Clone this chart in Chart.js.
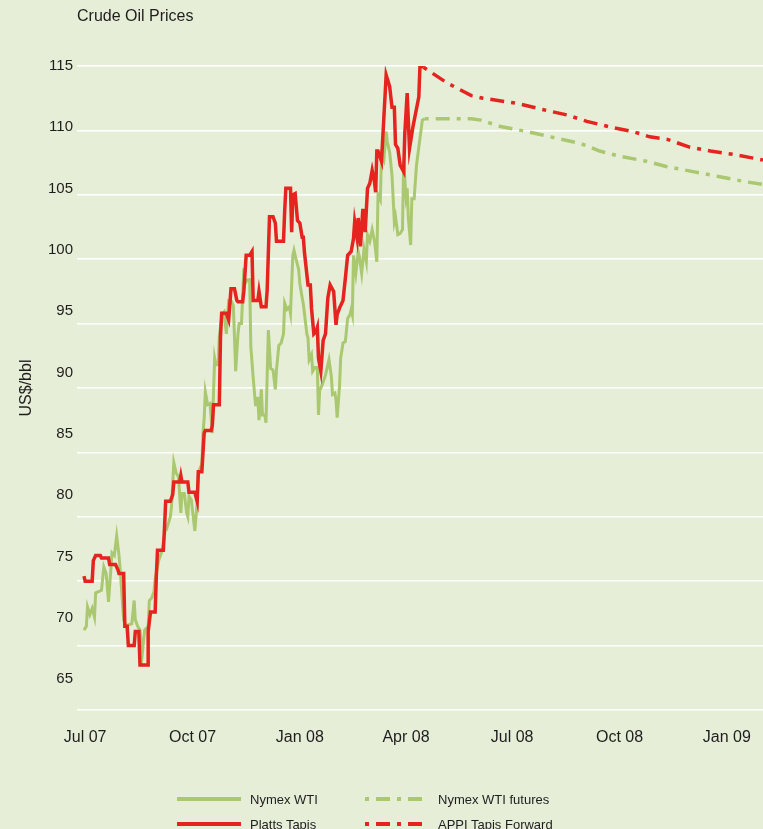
<!DOCTYPE html>
<html lang="en">
<head>
<meta charset="utf-8">
<title>Crude Oil Prices</title>
<script src="https://cdn.jsdelivr.net/npm/chart.js@4.4.1/dist/chart.umd.min.js"></script>
<style>
    html, body { margin: 0; padding: 0; background: #e6eed8; }
    #wrap { position: relative; width: 763px; height: 829px; overflow: hidden; font-family: "Liberation Sans", Arial, sans-serif; }
    #chart { position: absolute; left: 0; top: 0; }
    .legend-item { position: absolute; height: 20px; display: flex; align-items: center; font-size: 13px; color: #1e1e1e; white-space: nowrap; }
    .legend-item svg { margin-right: 9px; }
</style>
</head>
<body>
<div id="wrap">
    <canvas id="chart" width="763" height="829"></canvas>
    <div id="legend"></div>
</div>
<script>
// ============================ 数据 ============================
// x = days since 1 Jul 2007
const chartTitle = 'Crude Oil Prices';
const yTitle = 'US$/bbl';

const tickDays = [0, 92, 184, 275, 366, 458, 550];
const tickLabels = ['Jul 07', 'Oct 07', 'Jan 08', 'Apr 08', 'Jul 08', 'Oct 08', 'Jan 09'];
const yLabelValues = [65, 70, 75, 80, 85, 90, 95, 100, 105, 110, 115];

// Nymex WTI (daily)
const wtiDays = [-1, 1, 2, 4, 6, 8, 9, 12, 14, 16, 18, 20, 22, 23, 25, 27, 29, 30, 31, 33,
    35, 37, 40, 42, 43, 45, 47, 49, 51, 54, 55, 57, 59, 60, 63, 66, 69, 70, 73, 74,
    76, 78, 80, 82, 83, 85, 87, 88, 89, 91, 93, 94, 96, 97, 99, 100, 101, 102, 103, 105,
    107, 109, 110, 111, 112, 114, 115, 117, 118, 119, 121, 123, 125, 127, 129, 131, 132, 134, 136, 137,
    139, 141, 142, 144, 146, 147, 148, 149, 151, 152, 154, 155, 157, 159, 161, 163, 164, 166, 168, 170,
    171, 173, 175, 176, 178, 179, 181, 183, 184, 186, 187, 189, 190, 191, 192, 194, 195, 197, 199, 200,
    201, 203, 206, 209, 211, 212, 214, 215, 216, 218, 219, 221, 223, 225, 227, 228, 229, 230, 232, 234,
    235, 237, 239, 241, 242, 244, 246, 248, 250, 251, 253, 254, 256, 258, 259, 261, 263, 265, 266, 268,
    270, 272, 273, 275, 276, 277, 279, 280, 282, 284, 289, 291];
const wtiValues = [71.2, 71.5, 73.0, 72.4, 72.9, 72.2, 74.1, 74.2, 74.3, 76.1, 75.6, 73.4, 75.9, 77.2, 77.0, 78.5, 77.0, 75.9, 74.6, 72.0,
    71.5, 71.6, 71.7, 73.5, 72.0, 71.5, 71.2, 69.4, 71.2, 71.5, 73.5, 73.7, 74.2, 75.2, 76.6, 77.4, 79.2, 79.1, 80.0, 80.8,
    84.2, 83.4, 83.1, 80.3, 81.8, 81.8, 80.3, 80.0, 81.6, 81.3, 79.7, 78.9, 81.1, 83.4, 83.9, 84.0, 86.5, 87.6, 89.7, 88.7,
    88.8, 86.5, 89.6, 92.3, 91.8, 91.8, 94.0, 95.5, 95.8, 95.9, 94.2, 96.8, 96.8, 96.4, 91.3, 94.2, 95.0, 95.0, 99.3, 98.1,
    98.4, 98.4, 93.2, 90.8, 88.7, 88.7, 89.3, 87.5, 89.9, 87.9, 87.9, 87.3, 94.5, 91.5, 91.4, 89.9, 91.4, 93.3, 93.5, 94.2,
    96.6, 96.1, 96.3, 95.8, 100.3, 100.7, 99.9, 99.2, 98.1, 97.0, 96.5, 95.0, 94.2, 93.9, 92.2, 92.6, 91.3, 91.6, 91.6, 87.9,
    89.8, 90.2, 91.0, 92.2, 90.9, 89.5, 89.6, 89.1, 87.7, 90.1, 92.3, 93.5, 93.6, 95.4, 95.7, 96.1, 95.7, 100.3, 98.9, 100.6,
    100.2, 98.9, 100.8, 99.8, 101.9, 101.4, 102.3, 101.4, 99.8, 105.0, 104.6, 108.1, 107.7, 109.9, 109.1, 108.3, 106.5, 102.9, 103.3, 101.9,
    102.0, 102.3, 107.6, 104.9, 105.5, 103.2, 101.1, 104.7, 104.7, 107.3, 110.8, 110.9];

// Platts Tapis
const tapisDays = [-1, 0, 6, 7, 9, 13, 14, 20, 21, 26, 28, 29, 33, 34, 36, 37, 42, 43, 46, 47,
    54, 54, 56, 60, 61, 62, 67, 68, 69, 73, 75, 76, 81, 82, 83, 88, 89, 94, 96, 97,
    100, 102, 103, 108, 109, 110, 115, 116, 117, 121, 123, 125, 128, 130, 131, 135, 136, 138, 141, 143,
    144, 148, 149, 151, 155, 156, 158, 161, 163, 164, 170, 171, 172, 176, 177, 178, 180, 182, 184, 186,
    187, 188, 191, 193, 194, 196, 198, 199, 200, 202, 204, 206, 208, 210, 213, 215, 216, 218, 221, 223,
    225, 227, 228, 230, 231, 233, 234, 236, 238, 240, 242, 244, 246, 248, 249, 250, 251, 254, 258, 261,
    263, 265, 266, 268, 270, 273, 274, 276, 278, 281, 286, 287, 290];
const tapisValues = [75.4, 75.0, 75.0, 76.6, 77.0, 77.0, 76.8, 76.8, 76.3, 76.3, 75.9, 75.6, 75.6, 71.5, 71.5, 70.0, 70.0, 71.1, 71.1, 68.5,
    68.5, 71.1, 72.6, 72.6, 75.4, 77.4, 77.4, 79.1, 81.2, 81.2, 81.7, 82.7, 82.7, 83.2, 82.7, 82.7, 81.9, 81.9, 81.2, 83.5,
    83.5, 86.5, 86.7, 86.7, 87.1, 88.7, 88.7, 94.0, 95.8, 95.8, 95.3, 97.7, 97.7, 96.8, 96.7, 96.7, 97.5, 100.3, 100.3, 100.6,
    96.8, 96.8, 97.5, 96.3, 96.3, 97.6, 103.3, 103.3, 102.8, 101.4, 101.4, 103.7, 105.5, 105.5, 102.1, 105.0, 105.1, 103.0, 102.8, 101.7,
    101.7, 100.5, 98.0, 98.0, 96.2, 94.2, 94.4, 94.7, 92.3, 91.3, 93.7, 94.2, 97.0, 98.0, 97.5, 94.9, 95.7, 96.2, 96.8, 98.5,
    100.3, 100.5, 100.6, 101.6, 102.9, 101.7, 103.2, 101.0, 103.9, 102.1, 105.5, 105.9, 106.9, 106.0, 105.2, 108.4, 108.4, 107.6, 114.3, 113.4,
    111.8, 111.8, 108.9, 108.6, 107.3, 106.8, 109.8, 112.9, 108.6, 110.3, 112.6, 115.1, 114.9];

// Nymex WTI futures
const futuresDays = [291, 331, 339, 356, 379, 399, 424, 441, 458, 481, 498, 521, 544, 567, 581];
const futuresValues = [110.9, 110.9, 110.8, 110.3, 109.9, 109.5, 109.0, 108.4, 108.0, 107.6, 107.2, 106.8, 106.4, 106.0, 105.8];

// APPI Tapis Forward
const forwardDays = [290, 310, 331, 341, 370, 393, 413, 430, 453, 470, 484, 499, 518, 536, 558, 581];
const forwardValues = [114.9, 113.7, 112.7, 112.5, 112.1, 111.6, 111.2, 110.7, 110.2, 109.9, 109.5, 109.3, 108.7, 108.4, 108.1, 107.7];

// ============================ 样式 ============================
const redColor = '#e5231f';
const greenColor = '#a9c86f';
const textColor = '#1e1e1e';
const fontFamily = '"Liberation Sans", Arial, sans-serif';
const dashPattern = [4, 7, 14, 7];

function toPoints(days, values) {
    return days.map((d, i) => ({ x: d, y: values[i] }));
}

// 标题插件
const headerPlugin = {
    id: 'header',
    afterDraw(chart) {
        const ctx = chart.ctx;
        ctx.save();
        ctx.font = '16px ' + fontFamily;
        ctx.fillStyle = textColor;
        ctx.textBaseline = 'middle';
        ctx.textAlign = 'left';
        ctx.fillText(chartTitle, chart.chartArea.left, 17);
        ctx.restore();
    }
};

// red datasets first so they are drawn on top
const datasets = [
    {
        label: 'Platts Tapis',
        data: toPoints(tapisDays, tapisValues),
        borderColor: redColor,
        borderWidth: 3.5,
        borderDash: []
    },
    {
        label: 'APPI Tapis Forward',
        data: toPoints(forwardDays, forwardValues),
        borderColor: redColor,
        borderWidth: 3.5,
        borderDash: dashPattern
    },
    {
        label: 'Nymex WTI',
        data: toPoints(wtiDays, wtiValues),
        borderColor: greenColor,
        borderWidth: 3,
        borderDash: []
    },
    {
        label: 'Nymex WTI futures',
        data: toPoints(futuresDays, futuresValues),
        borderColor: greenColor,
        borderWidth: 3.5,
        borderDash: dashPattern
    }
];
datasets.forEach(ds => {
    ds.pointRadius = 0;
    ds.tension = 0;
    ds.fill = false;
    ds.borderJoinStyle = 'miter';
});

const ctx = document.getElementById('chart').getContext('2d');
const chart = new Chart(ctx, {
    type: 'line',
    data: { datasets: datasets },
    plugins: [headerPlugin],
    options: {
        responsive: false,
        animation: false,
        devicePixelRatio: 1,
        layout: { padding: { top: 66, right: 0, bottom: 63, left: 0 } },
        plugins: {
            legend: { display: false },
            tooltip: { enabled: false },
            title: { display: false }
        },
        scales: {
            x: {
                type: 'linear',
                min: -7,
                max: 581,
                afterBuildTicks: axis => { axis.ticks = tickDays.map(v => ({ value: v })); },
                ticks: {
                    autoSkip: false,
                    maxRotation: 0,
                    padding: 12,
                    color: textColor,
                    font: { size: 16, family: fontFamily, lineHeight: 2 },
                    callback: (value, index) => tickLabels[index]
                },
                grid: { display: false, drawTicks: false },
                border: { display: false }
            },
            // data axis, draws the white grid lines
            y: {
                type: 'linear',
                position: 'left',
                min: 65,
                max: 115,
                ticks: { display: false, stepSize: 5 },
                grid: { color: '#ffffff', lineWidth: 1.5, drawTicks: false },
                border: { display: false },
                afterFit: s => { s.width = 0; }
            },
            // label axis, the labels in the picture sit a little off the grid lines
            yLab: {
                type: 'linear',
                position: 'left',
                min: 62.47,
                max: 115,
                afterBuildTicks: axis => { axis.ticks = yLabelValues.map(v => ({ value: v })); },
                ticks: {
                    padding: 4,
                    color: textColor,
                    font: { size: 15, family: fontFamily }
                },
                title: {
                    display: true,
                    text: yTitle,
                    color: textColor,
                    font: { size: 16, family: fontFamily },
                    padding: { top: 17, bottom: 0 }
                },
                grid: { display: false, drawTicks: false },
                border: { display: false },
                afterFit: s => { s.width = 77; }
            }
        }
    }
});

// ============================ 图例 ============================
// two rows, two columns, like the original
const legendOrder = [2, 3, 0, 1];
const legendCols = [177, 365];
const legendRows = [799, 824];

function renderLegend() {
    const box = document.getElementById('legend');
    let html = '';
    legendOrder.forEach((dsIndex, i) => {
        const ds = datasets[dsIndex];
        const left = legendCols[i % 2];
        const top = legendRows[Math.floor(i / 2)] - 10;
        const dash = ds.borderDash.length ? ds.borderDash.join(',') : 'none';
        html += `
            <div class="legend-item" style="left:${left}px; top:${top}px;">
                <svg width="64" height="8"><line x1="0" y1="4" x2="64" y2="4" stroke="${ds.borderColor}" stroke-width="4" stroke-dasharray="${dash}"/></svg>
                <span>${ds.label}</span>
            </div>
        `;
    });
    box.innerHTML = html;
}
renderLegend();
</script>
</body>
</html>
